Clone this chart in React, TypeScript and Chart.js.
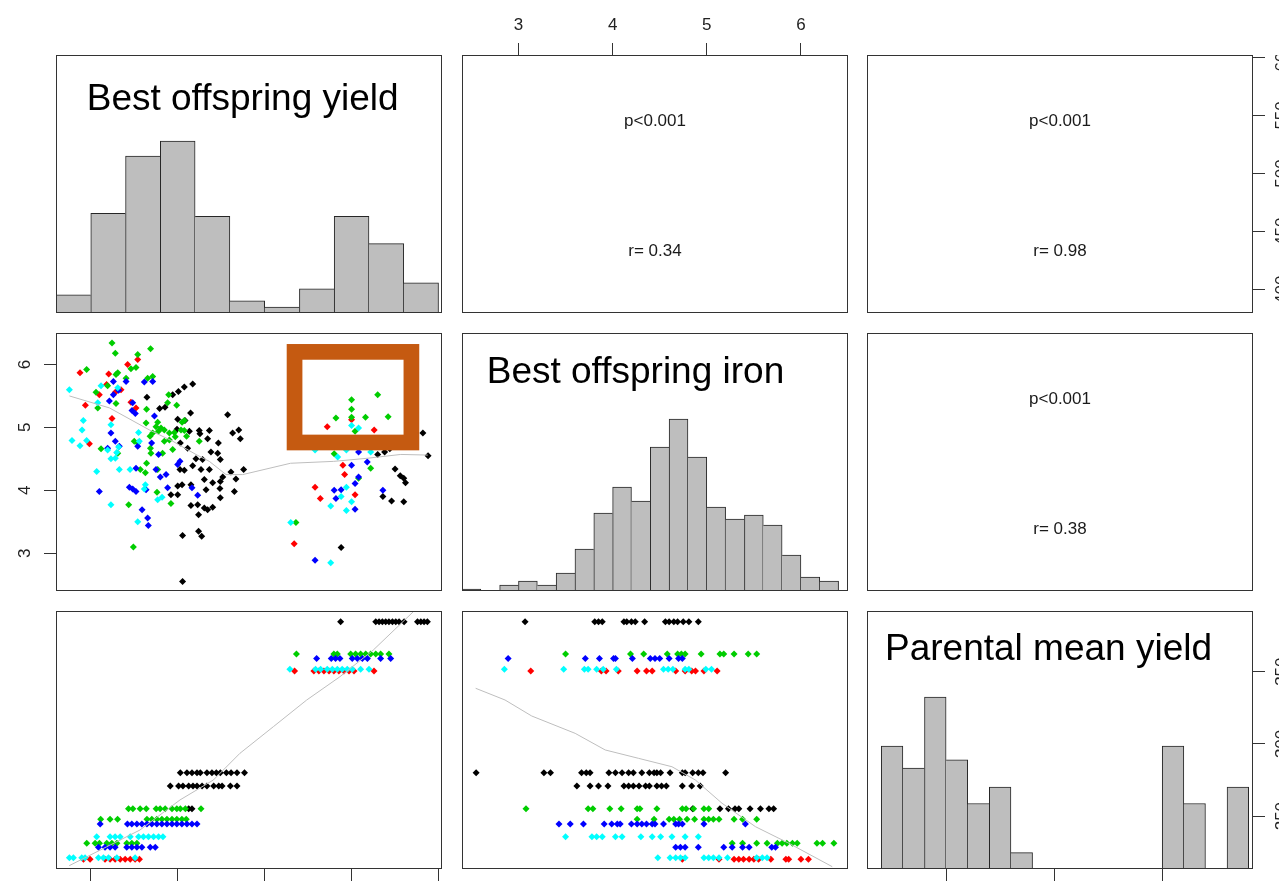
import React, { useEffect, useRef } from 'react';
import { Chart, registerables } from 'chart.js';

Chart.register(...registerables);

const FONT = '"Liberation Sans", Arial, Helvetica, sans-serif';

// ---- colours ----
const C_BLACK = '#000000';
const C_RED = '#FF0000';
const C_GREEN = '#00CD00';
const C_BLUE = '#0000FF';
const C_CYAN = '#00FFFF';
const C_SMOOTH = '#BEBEBE';
const C_HIST = '#BEBEBE';
const C_BOX = '#C55A11';

// ---- axis ranges & ticks ----
const YIELD_RANGE = [380, 602];
const IRON_RANGE = [2.4, 6.5];
const PARENT_RANGE = [213.4, 392];
const yieldTicks = [400, 450, 500, 550, 600];
const ironTicks = [3, 4, 5, 6];
const parentTicks = [250, 300, 350];

// ---- diagonal labels & correlations ----
const varNames = ['Best offspring yield', 'Best offspring iron', 'Parental mean yield'];
const pTexts = ['p<0.001', 'p<0.001', 'p<0.001'];
const rTexts = ['r= 0.34', 'r= 0.98', 'r= 0.38'];

// ---- histograms ----
const yieldBreaks = [380, 400, 420, 440, 460, 480, 500, 520, 540, 560, 580, 600];
const yieldCounts = [6, 33, 52, 57, 32, 4, 2, 8, 32, 23, 10];
const ironBreaks = [2.4, 2.6, 2.8, 3.0, 3.2, 3.4, 3.6, 3.8, 4.0, 4.2, 4.4, 4.6, 4.8, 5.0, 5.2, 5.4, 5.6, 5.8, 6.0, 6.2, 6.4];
const ironCounts = [1, 0, 3, 5, 3, 9, 21, 39, 52, 45, 72, 86, 67, 42, 36, 38, 33, 18, 7, 5];
const parentBreaks = [220, 230, 240, 250, 260, 270, 280, 290, 300, 310, 320, 330, 340, 350, 360, 370, 380, 390];
const parentCounts = [45, 37, 63, 40, 24, 30, 6, 0, 0, 0, 0, 0, 0, 45, 24, 0, 30];

// ---- panel (2,1): yield (x) vs iron (y) ----
const yiIronBlack: [number, number][] = [
  [458.6, 5.69], [453.8, 5.64], [450.4, 5.57], [447.1, 5.52], [432.3, 5.48], [442.7, 5.32], [439.6, 5.30], [457.4, 5.23],
  [478.7, 5.20], [450.0, 5.13], [454.2, 5.11], [449.6, 4.97], [456.7, 4.94], [462.4, 4.95], [468.2, 4.95], [462.8, 4.90],
  [485.1, 4.96], [481.6, 4.91], [486.0, 4.82], [473.4, 4.75], [467.2, 4.82], [451.5, 4.75], [455.7, 4.67], [469.1, 4.61],
  [473.0, 4.59], [474.5, 4.49], [464.3, 4.49], [460.5, 4.50], [458.6, 4.39], [463.4, 4.33], [468.2, 4.33], [480.6, 4.29],
  [487.9, 4.33], [483.5, 4.18], [475.9, 4.21], [474.5, 4.14], [470.1, 4.12], [465.3, 4.17], [451.3, 4.33], [453.8, 4.32],
  [452.5, 4.09], [450.0, 4.07], [457.6, 4.09], [466.3, 4.01], [474.3, 4.03], [482.6, 3.98], [474.5, 3.88], [446.1, 3.93],
  [450.0, 3.93], [457.6, 3.76], [461.5, 3.77], [465.3, 3.72], [470.1, 3.73], [467.2, 3.69], [462.0, 3.61], [452.8, 3.28],
  [462.0, 3.35], [463.8, 3.27], [452.8, 2.55],
  [591, 4.91], [594, 4.55], [569, 4.61], [565, 4.57], [575, 4.34], [578, 4.23], [580, 4.19], [581, 4.12], [568, 3.90],
  [573, 3.83], [580, 3.82], [544, 3.09], [572, 4.66],
];
const yiIronRed: [number, number][] = [
  [393.8, 5.87], [421.2, 6.00], [427.0, 6.08], [410.3, 5.85], [409.1, 5.68], [404.9, 5.52], [414.1, 5.56], [417.4, 5.60],
  [396.9, 5.35], [423.1, 5.40], [426.0, 5.31], [412.2, 5.14], [399.2, 4.74],
  [536, 5.01], [563, 4.96], [550, 5.12], [545, 4.40], [546, 4.25], [529, 4.05], [532, 3.87], [552, 3.93], [517, 3.15], [544, 4.79],
];
const yiIronGreen: [number, number][] = [
  [412.2, 6.34], [414.1, 6.18], [434.4, 6.25], [427.0, 6.16], [426.0, 5.95], [423.1, 5.93], [415.5, 5.87], [414.5, 5.84],
  [420.3, 5.78], [435.6, 5.81], [432.7, 5.78], [409.7, 5.66], [403.0, 5.56], [404.0, 5.31], [414.5, 5.38], [444.8, 5.52],
  [444.2, 5.39], [449.4, 5.35], [432.1, 5.29], [438.5, 5.08], [431.8, 5.07], [453.8, 5.11], [452.5, 5.08], [437.5, 5.01],
  [440.4, 4.99], [442.3, 4.96], [438.9, 4.94], [435.6, 4.91], [445.2, 4.91], [448.1, 4.92], [451.9, 4.96], [453.8, 4.95],
  [434.1, 4.86], [455.1, 4.86], [448.6, 4.85], [445.2, 4.80], [462.4, 4.78], [442.3, 4.78], [425.0, 4.78], [427.0, 4.75],
  [405.9, 4.66], [415.5, 4.59], [434.3, 4.67], [434.6, 4.59], [447.1, 4.65], [441.3, 4.59], [432.1, 4.43], [428.5, 4.33],
  [431.4, 4.28], [438.5, 4.33], [438.1, 3.97], [446.1, 3.79], [421.8, 3.77], [424.5, 3.10], [397.6, 5.92],
  [550, 5.44], [550, 5.29], [565, 5.52], [558, 5.16], [571, 5.17], [541, 5.15], [550, 5.16], [552, 4.94], [540, 4.58],
  [518, 3.49], [554, 4.19], [561, 4.35],
];
const yiIronBlue: [number, number][] = [
  [413.0, 5.73], [420.3, 5.73], [430.8, 5.72], [435.6, 5.73], [410.7, 5.42], [413.0, 5.52], [416.0, 5.59], [424.1, 5.39],
  [423.7, 5.27], [425.6, 5.22], [436.6, 5.18], [411.6, 4.91], [414.1, 4.78], [409.7, 4.67], [416.4, 4.70], [427.0, 4.70],
  [435.0, 4.75], [439.0, 4.57], [451.3, 4.46], [450.0, 4.41], [437.5, 4.33], [426.0, 4.35], [443.3, 4.25], [440.0, 4.21],
  [422.2, 4.05], [424.1, 4.02], [426.0, 3.98], [431.8, 4.01], [404.9, 3.98], [444.2, 4.04], [458.2, 4.04], [461.5, 3.92],
  [429.5, 3.69], [432.7, 3.56], [433.1, 3.44],
  [554, 4.61], [559, 4.45], [550, 4.40], [554, 4.21], [540, 4.00], [544, 4.01], [541, 3.87], [568, 4.00], [552, 4.11],
  [552, 3.70], [529, 2.89],
];
const yiIronCyan: [number, number][] = [
  [387.7, 5.60], [405.9, 5.66], [415.5, 5.63], [404.0, 5.39], [395.7, 5.11], [395.0, 4.96], [389.2, 4.79], [393.8, 4.71],
  [397.6, 4.79], [411.6, 5.04], [427.5, 4.92], [427.9, 4.78], [416.0, 4.69], [414.9, 4.60], [409.7, 4.64], [411.6, 4.50],
  [414.1, 4.51], [422.6, 4.33], [416.4, 4.33], [403.4, 4.30], [431.4, 4.09], [430.8, 4.02], [438.5, 3.85], [441.0, 3.89],
  [411.6, 3.77], [427.0, 3.50],
  [529, 4.64], [542, 4.53], [547, 4.64], [544, 3.90], [547, 4.05], [550, 3.82], [547, 3.68], [538, 3.75], [515, 3.49],
  [538, 2.85], [550, 5.03], [554, 4.99], [561, 4.61],
];
const yiIronSmooth: [number, number][] = [
  [387.7, 5.50], [410.7, 5.31], [433.7, 4.96], [447.1, 4.78], [460.5, 4.57], [468.2, 4.46], [477.8, 4.25], [487.4, 4.25],
  [495.0, 4.30], [514.9, 4.43], [539.7, 4.46], [559.3, 4.51], [578.3, 4.57], [593.8, 4.56],
];
// highlight rectangle (yield / iron units)
const boxYield = [517.2, 584.4];
const boxIron = [4.76, 6.2];

// ---- panel (3,1): yield (x) by parental mean yield (row value) ----
const yiParBlack: [number, number[]][] = [
  [384.6, [543.7, 563.9, 565.8, 567.7, 569.6, 571.5, 573.5, 575.4, 577.3, 580.2, 587.9, 589.8, 591.7, 593.6]],
  [280.1, [451.5, 455.3, 458.2, 461.1, 463.0, 466.8, 469.7, 472.2, 474.5, 478.0, 480.7, 484.1, 488.4]],
  [270.9, [445.7, 450.5, 453.0, 456.3, 458.8, 461.1, 464.0, 466.8, 470.7, 473.6, 475.5, 480.3, 484.1]],
  [255.1, [456.3, 458.2]],
];
const yiParGreen: [number, number[]][] = [
  [362.2, [518.3, 539.8, 541.8, 549.5, 552.3, 555.2, 558.1, 561.0, 563.9, 566.7, 571.5]],
  [255.1, [421.7, 424.2, 428.4, 431.9, 437.6, 439.9, 442.8, 446.7, 449.5, 451.5, 454.4, 463.4]],
  [247.8, [405.7, 411.1, 415.4, 432.3, 435.1, 438.0, 440.9, 443.8, 446.7, 449.5, 452.4, 454.9]],
  [231.2, [397.7, 402.5, 405.0, 409.2, 412.1, 415.0, 420.7, 423.6, 426.5]],
];
const yiParBlue: [number, number[]][] = [
  [359.2, [529.9, 538.3, 540.8, 543.3, 550.4, 553.3, 556.2, 559.1, 566.7, 572.5]],
  [244.5, [405.4, 421.1, 423.6, 426.5, 429.4, 432.3, 435.1, 438.0, 440.9, 443.8, 446.7, 449.5, 452.4, 455.3, 458.2, 461.1]],
  [228.4, [404.4, 408.2, 411.1, 414.0, 420.7, 423.6, 426.5, 429.4, 434.2, 437.1]],
];
const yiParCyan: [number, number[]][] = [
  [351.6, [514.5, 529.3, 532.2, 536.0, 538.9, 541.8, 544.6, 547.5, 550.4, 555.2, 560.0]],
  [235.8, [403.4, 411.1, 414.0, 416.9, 422.7, 427.5, 430.3, 433.2, 436.1, 439.0, 441.5]],
  [221.2, [387.7, 390.0, 394.8, 396.7, 404.4, 407.3, 410.2, 415.0, 425.5]],
];
const yiParRed: [number, number[]][] = [
  [350.5, [517.2, 528.3, 531.2, 534.1, 537.0, 539.8, 542.7, 545.6, 548.5, 551.4, 562.9]],
  [220.1, [395.8, 399.6, 408.2, 411.1, 414.0, 416.9, 419.8, 422.7, 425.5, 428.0]],
];
const yiParSmooth: [number, number][] = [
  [387.6, 215.7], [409.2, 228.8], [428.3, 240.4], [451.3, 261.2], [470.5, 275.0], [485.8, 293.5],
  [505.0, 311.9], [524.2, 330.4], [543.3, 346.5], [562.5, 365.0], [585.5, 391.5],
];

// ---- panel (3,2): iron (x) by parental mean yield (row value) ----
const irParBlack: [number, number[]][] = [
  [384.6, [3.07, 3.81, 3.85, 3.89, 4.12, 4.15, 4.20, 4.24, 4.34, 4.56, 4.60, 4.65, 4.69, 4.75, 4.81, 4.91]],
  [280.1, [2.55, 3.27, 3.34, 3.67, 3.72, 3.76, 3.96, 4.03, 4.10, 4.17, 4.22, 4.31, 4.39, 4.44, 4.47, 4.51, 4.61, 4.74, 4.77, 4.85, 4.91, 4.96, 5.20]],
  [270.9, [3.62, 3.76, 3.85, 3.95, 4.12, 4.17, 4.22, 4.28, 4.35, 4.39, 4.47, 4.52, 4.57, 4.74, 4.84, 4.93]],
  [255.1, [4.85, 5.14, 5.23, 5.30, 5.34, 5.46, 5.57, 5.66, 5.71]],
];
const irParGreen: [number, number[]][] = [
  [362.2, [3.50, 4.19, 4.33, 4.58, 4.69, 4.73, 4.77, 4.94, 5.14, 5.18, 5.29, 5.44, 5.53]],
  [255.1, [3.08, 3.74, 3.79, 3.97, 4.09, 4.26, 4.29, 4.47, 4.74, 4.78, 4.86, 4.97, 5.02]],
  [247.8, [4.26, 4.44, 4.60, 4.65, 4.71, 4.79, 4.87, 4.97, 5.02, 5.07, 5.13, 5.29, 5.38, 5.53]],
  [231.2, [5.27, 5.38, 5.53, 5.64, 5.75, 5.80, 5.85, 5.91, 5.96, 6.17, 6.23, 6.35]],
];
const irParBlue: [number, number[]][] = [
  [359.2, [2.89, 3.71, 3.86, 4.01, 4.03, 4.21, 4.40, 4.45, 4.50, 4.60, 4.70, 4.74]],
  [244.5, [3.43, 3.55, 3.69, 3.91, 3.99, 4.05, 4.08, 4.20, 4.26, 4.31, 4.36, 4.42, 4.45, 4.54, 4.67, 4.70, 4.74, 4.97, 5.41]],
  [228.4, [4.67, 4.72, 4.77, 4.91, 5.18, 5.27, 5.38, 5.45, 5.69, 5.73]],
];
const irParCyan: [number, number[]][] = [
  [351.6, [2.85, 3.48, 3.70, 3.74, 3.83, 3.90, 4.04, 4.54, 4.59, 4.64, 4.77, 4.81, 4.99, 5.05]],
  [235.8, [3.50, 3.78, 3.83, 3.89, 4.03, 4.10, 4.30, 4.42, 4.51, 4.63, 4.77, 4.91]],
  [221.2, [4.48, 4.61, 4.67, 4.72, 4.77, 4.97, 5.02, 5.07, 5.13, 5.22, 5.53, 5.59, 5.64]],
];
const irParRed: [number, number[]][] = [
  [350.5, [3.13, 3.88, 3.93, 4.06, 4.26, 4.36, 4.42, 4.67, 4.77, 4.84, 4.88, 4.97, 5.11]],
  [220.1, [4.74, 5.13, 5.29, 5.34, 5.39, 5.45, 5.50, 5.55, 5.68, 5.84, 5.87, 6.00, 6.08]],
];
const irParSmooth: [number, number][] = [
  [2.545, 338.5], [2.857, 330.4], [3.141, 319.3], [3.602, 307.3], [3.921, 295.8], [4.276, 290.0],
  [4.630, 284.2], [4.879, 275.0], [5.162, 258.9], [5.517, 242.7], [5.872, 231.2], [6.333, 215.0],
];

// ---- layout ----
const COLS = [56, 462, 867];
const ROWS = [55, 333, 611];
const PW = 386;
const PH = 258;

// ---------------- helpers ----------------
const pairsToPts = (arr: [number, number][]) => arr.map(([x, y]) => ({ x, y }));
const rowsToPts = (rows: [number, number[]][]) =>
  rows.flatMap(([y, xs]) => xs.map((x) => ({ x, y })));

const pointDs = (data: any[], color: string) => ({
  type: 'scatter',
  data,
  pointStyle: 'rectRot',
  pointRadius: 3.5,
  pointBackgroundColor: color,
  pointBorderWidth: 0,
  backgroundColor: color,
  borderColor: color,
  borderWidth: 0,
  showLine: false,
});

const smoothDs = (arr: [number, number][]) => ({
  type: 'line',
  data: pairsToPts(arr),
  borderColor: C_SMOOTH,
  borderWidth: 1,
  pointRadius: 0,
  fill: false,
  tension: 0,
});

function axis(range: number[], o?: any) {
  if (!o) return { type: 'linear', display: false, min: range[0], max: range[1], offset: false };
  const horizontal = o.position === 'top' || o.position === 'bottom';
  return {
    type: 'linear',
    display: true,
    position: o.position,
    min: range[0],
    max: range[1],
    offset: false,
    afterBuildTicks: (s: any) => {
      s.ticks = o.ticks.map((v: number) => ({ value: v }));
    },
    afterFit: (s: any) => {
      if (horizontal) s.height = o.size;
      else s.width = o.size;
      s.paddingLeft = 0;
      s.paddingRight = 0;
      s.paddingTop = 0;
      s.paddingBottom = 0;
    },
    grid: {
      display: true,
      offset: false,
      drawOnChartArea: false,
      drawTicks: true,
      tickLength: 12,
      color: '#333333',
      tickColor: '#333333',
      tickWidth: 1,
      lineWidth: 1,
    },
    border: { display: false },
    ticks: {
      autoSkip: false,
      color: '#222222',
      font: { family: FONT, size: 17 },
      padding: o.pad,
      minRotation: o.rotate ? 90 : 0,
      maxRotation: o.rotate ? 90 : 0,
      crossAlign: o.rotate ? 'center' : 'near',
      callback: (v: any) => String(v),
    },
  };
}

const framePlugin = {
  id: 'panelFrame',
  afterDraw(chart: any) {
    const { ctx, chartArea: a } = chart;
    ctx.save();
    ctx.strokeStyle = '#333333';
    ctx.lineWidth = 1;
    ctx.strokeRect(
      Math.round(a.left) + 0.5,
      Math.round(a.top) + 0.5,
      Math.round(a.right - a.left) - 1,
      Math.round(a.bottom - a.top) - 1
    );
    ctx.restore();
  },
};

function textPlugin(items: any[]) {
  return {
    id: 'panelText',
    afterDraw(chart: any) {
      const { ctx, chartArea: a } = chart;
      ctx.save();
      for (const it of items) {
        ctx.font = `${it.size}px ${FONT}`;
        ctx.fillStyle = it.color || '#111111';
        ctx.textAlign = it.align;
        ctx.textBaseline = it.baseline;
        ctx.fillText(it.text, a.left + it.dx, a.top + it.dy);
      }
      ctx.restore();
    },
  };
}

const boxPlugin = {
  id: 'highlightBox',
  afterDatasetsDraw(chart: any) {
    const { ctx } = chart;
    const xs = chart.scales.x;
    const ys = chart.scales.y;
    const x0 = xs.getPixelForValue(boxYield[0]);
    const x1 = xs.getPixelForValue(boxYield[1]);
    const y0 = ys.getPixelForValue(boxIron[1]);
    const y1 = ys.getPixelForValue(boxIron[0]);
    ctx.save();
    ctx.strokeStyle = C_BOX;
    ctx.lineWidth = 15.7;
    ctx.lineJoin = 'miter';
    ctx.strokeRect(x0, y0, x1 - x0, y1 - y0);
    ctx.restore();
  },
};

const baseOptions = (scales: any) => ({
  responsive: false,
  maintainAspectRatio: false,
  animation: false,
  devicePixelRatio: 1,
  events: [],
  layout: { padding: 0, autoPadding: false },
  plugins: { legend: { display: false }, tooltip: { enabled: false }, title: { display: false } },
  scales,
});

const corrItems = (i: number) => [
  { text: pTexts[i], size: 17, align: 'center', baseline: 'middle', dx: PW / 2, dy: 66, color: '#1a1a1a' },
  { text: rTexts[i], size: 17, align: 'center', baseline: 'middle', dx: PW / 2, dy: 196, color: '#1a1a1a' },
];

function histDs(breaks: number[], counts: number[]) {
  const data = counts.map((c, i) => ({ x: (breaks[i] + breaks[i + 1]) / 2, y: c === 0 ? null : c }));
  return {
    type: 'bar',
    data,
    backgroundColor: C_HIST,
    borderColor: '#262626',
    borderSkipped: false,
    barPercentage: 1,
    categoryPercentage: 1,
    borderWidth: (ctx: any) => {
      const i = ctx.dataIndex;
      const cur = counts[i] || 0;
      const prev = i > 0 ? counts[i - 1] : 0;
      const next = i < counts.length - 1 ? counts[i + 1] : 0;
      return { top: 1, bottom: 0, left: prev <= cur ? 1 : 0, right: next < cur ? 1 : 0 };
    },
  };
}

function histConfig(breaks: number[], counts: number[], xRange: number[], xAxis: any, label: any) {
  const maxC = Math.max(...counts);
  return {
    type: 'bar',
    data: { datasets: [histDs(breaks, counts)] },
    options: baseOptions({
      x: xAxis || axis(xRange),
      y: { type: 'linear', display: false, min: 0, max: maxC * 1.5 },
    }),
    plugins: [textPlugin([label]), framePlugin],
  };
}

// ---------------- panels ----------------
function makePanels() {
  const panels: any[] = [];

  panels.push({
    key: 'p11', left: COLS[0], top: ROWS[0], width: PW, height: PH,
    make: () => histConfig(yieldBreaks, yieldCounts, YIELD_RANGE, null,
      { text: varNames[0], size: 37, align: 'left', baseline: 'alphabetic', dx: 30.7, dy: 55, color: '#000' }),
  });

  panels.push({
    key: 'p12', left: COLS[1], top: 0, width: PW, height: ROWS[0] + PH,
    make: () => ({
      type: 'scatter',
      data: { datasets: [] },
      options: baseOptions({
        x: axis(IRON_RANGE, { position: 'top', ticks: ironTicks, size: ROWS[0], pad: 7.3 }),
        y: axis(YIELD_RANGE),
      }),
      plugins: [textPlugin(corrItems(0)), framePlugin],
    }),
  });

  panels.push({
    key: 'p13', left: COLS[2], top: ROWS[0], width: PW + 40, height: PH,
    make: () => ({
      type: 'scatter',
      data: { datasets: [] },
      options: baseOptions({
        x: axis(PARENT_RANGE),
        y: axis(YIELD_RANGE, { position: 'right', ticks: yieldTicks, size: 40, pad: 3.6, rotate: true }),
      }),
      plugins: [textPlugin(corrItems(1)), framePlugin],
    }),
  });

  panels.push({
    key: 'p21', left: 0, top: ROWS[1], width: COLS[0] + PW, height: PH,
    make: () => ({
      type: 'scatter',
      data: {
        datasets: [
          smoothDs(yiIronSmooth),
          pointDs(pairsToPts(yiIronCyan), C_CYAN),
          pointDs(pairsToPts(yiIronBlue), C_BLUE),
          pointDs(pairsToPts(yiIronGreen), C_GREEN),
          pointDs(pairsToPts(yiIronRed), C_RED),
          pointDs(pairsToPts(yiIronBlack), C_BLACK),
        ],
      },
      options: baseOptions({
        x: axis(YIELD_RANGE),
        y: axis(IRON_RANGE, { position: 'left', ticks: ironTicks, size: COLS[0], pad: 14.3, rotate: true }),
      }),
      plugins: [boxPlugin, framePlugin],
    }),
  });

  panels.push({
    key: 'p22', left: COLS[1], top: ROWS[1], width: PW, height: PH,
    make: () => histConfig(ironBreaks, ironCounts, IRON_RANGE, null,
      { text: varNames[1], size: 37, align: 'left', baseline: 'alphabetic', dx: 24.7, dy: 49.5, color: '#000' }),
  });

  panels.push({
    key: 'p23', left: COLS[2], top: ROWS[1], width: PW, height: PH,
    make: () => ({
      type: 'scatter',
      data: { datasets: [] },
      options: baseOptions({ x: axis(PARENT_RANGE), y: axis(IRON_RANGE) }),
      plugins: [textPlugin(corrItems(2)), framePlugin],
    }),
  });

  panels.push({
    key: 'p31', left: COLS[0], top: ROWS[2], width: PW, height: PH + 40,
    make: () => ({
      type: 'scatter',
      data: {
        datasets: [
          smoothDs(yiParSmooth),
          pointDs(rowsToPts(yiParCyan), C_CYAN),
          pointDs(rowsToPts(yiParRed), C_RED),
          pointDs(rowsToPts(yiParBlue), C_BLUE),
          pointDs(rowsToPts(yiParGreen), C_GREEN),
          pointDs(rowsToPts(yiParBlack), C_BLACK),
        ],
      },
      options: baseOptions({
        x: axis(YIELD_RANGE, { position: 'bottom', ticks: yieldTicks, size: 40, pad: 10 }),
        y: axis(PARENT_RANGE),
      }),
      plugins: [framePlugin],
    }),
  });

  panels.push({
    key: 'p32', left: COLS[1], top: ROWS[2], width: PW, height: PH,
    make: () => ({
      type: 'scatter',
      data: {
        datasets: [
          smoothDs(irParSmooth),
          pointDs(rowsToPts(irParCyan), C_CYAN),
          pointDs(rowsToPts(irParRed), C_RED),
          pointDs(rowsToPts(irParBlue), C_BLUE),
          pointDs(rowsToPts(irParGreen), C_GREEN),
          pointDs(rowsToPts(irParBlack), C_BLACK),
        ],
      },
      options: baseOptions({ x: axis(IRON_RANGE), y: axis(PARENT_RANGE) }),
      plugins: [framePlugin],
    }),
  });

  panels.push({
    key: 'p33', left: COLS[2], top: ROWS[2], width: PW + 40, height: PH + 40,
    make: () => {
      const cfg: any = histConfig(
        parentBreaks, parentCounts, PARENT_RANGE,
        axis(PARENT_RANGE, { position: 'bottom', ticks: parentTicks, size: 40, pad: 10 }),
        { text: varNames[2], size: 37, align: 'left', baseline: 'alphabetic', dx: 18, dy: 49, color: '#000' }
      );
      cfg.options.scales.yPar = axis(PARENT_RANGE, { position: 'right', ticks: parentTicks, size: 40, pad: 3.6, rotate: true });
      return cfg;
    },
  });

  return panels;
}

function PanelCanvas({ left, top, width, height, make }: any) {
  const ref = useRef<HTMLCanvasElement | null>(null);
  useEffect(() => {
    if (!ref.current) return;
    const chart = new Chart(ref.current, make());
    return () => chart.destroy();
  }, []);
  return (
    <canvas
      ref={ref}
      width={width}
      height={height}
      style={{ position: 'absolute', left, top, width, height, display: 'block' }}
    />
  );
}

export default function App() {
  const panels = makePanels();
  return (
    <div
      style={{
        position: 'fixed',
        left: 0,
        top: 0,
        width: 1279,
        height: 891,
        overflow: 'hidden',
        background: '#ffffff',
      }}
    >
      {panels.map((p) => (
        <PanelCanvas key={p.key} {...p} />
      ))}
    </div>
  );
}
